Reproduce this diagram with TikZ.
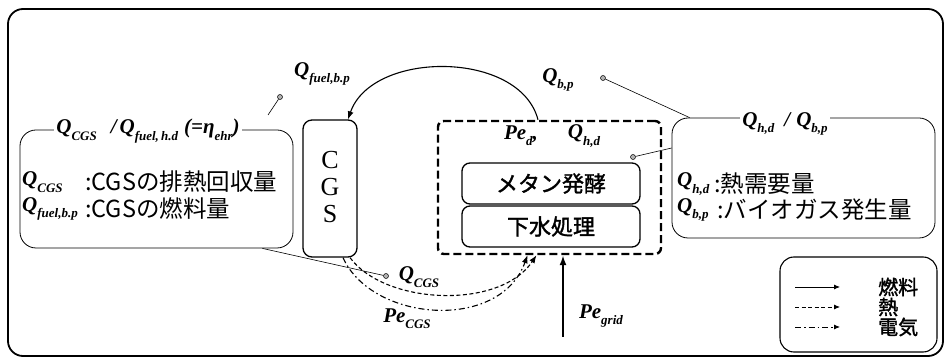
\documentclass[tikz,border=0pt]{standalone}
\usepackage{fontspec}
\setmainfont{Liberation Serif}
\newfontfamily\jp{Noto Sans CJK JP}
\newfontfamily\jpb{Noto Sans CJK JP}[FakeBold=1.5]
\usetikzlibrary{arrows.meta}
\newcommand{\qv}[2]{{\fontsize{21}{21}\selectfont\bfseries\itshape #1\raisebox{-0.3em}{\fontsize{13}{13}\selectfont #2}}}
\newcommand{\bi}[1]{{\fontsize{21}{21}\selectfont\bfseries\itshape #1}}
\newcommand{\jt}[1]{{\jp\fontsize{23.5}{23.5}\selectfont #1}}
\begin{document}
\begin{tikzpicture}[x=1pt,y=-1pt,
  frame/.style={draw, line width=1.8pt, rounded corners=15pt},
  bubble/.style={draw, line width=0.8pt, rounded corners=16pt, inner sep=0},
  cgsbox/.style={draw, line width=1.3pt, rounded corners=9pt, inner sep=0},
  procbox/.style={draw, line width=1.3pt, rounded corners=8pt, inner sep=0},
  dbox/.style={draw, line width=2.4pt, dash pattern=on 8pt off 4pt, rounded corners=6pt, inner sep=0},
  legbox/.style={draw, line width=1.1pt, rounded corners=14pt, inner sep=0},
  title/.style={fill=white, inner sep=2pt},
  lab/.style={inner sep=0},
  dot/.style={circle, draw, fill=gray!60, inner sep=0, minimum size=5pt, line width=0.5pt},
  leader/.style={draw, line width=0.6pt},
  fuelarrow/.style={draw, line width=1.1pt, -{Latex[length=8pt,width=6pt]}},
  heatarrow/.style={draw, line width=1.1pt, dash pattern=on 4pt off 2.5pt, -{Latex[length=8pt,width=6pt]}},
  elecarrow/.style={draw, line width=1.1pt, dash pattern=on 6pt off 3pt on 1.5pt off 3pt, -{Latex[length=8pt,width=6pt]}},
  gridarrow/.style={draw, line width=1.8pt, -{Latex[length=10pt,width=7pt]}}
]
\useasboundingbox (0,0) rectangle (946,363);
\draw[frame] (8,9) rectangle (943,356);

% boxes
\node[bubble, minimum width=273, minimum height=118] (lbub) at (156.5,189) {};
\node[cgsbox, minimum width=54, minimum height=137] (cgs) at (330,188.5) {};
\node[dbox, minimum width=223, minimum height=133] (dbox) at (549.5,187.5) {};
\node[procbox, minimum width=178, minimum height=41] (meth) at (551,183.5) {\jpb\fontsize{22}{22}\selectfont メタン発酵};
\node[procbox, minimum width=178, minimum height=41] (sew) at (551,226.5) {\jpb\fontsize{22}{22}\selectfont 下水処理};
\node[bubble, minimum width=263, minimum height=120] (rbub) at (803.5,178) {};
\node[legbox, minimum width=157, minimum height=95] (leg) at (858.5,304.5) {};

% CGS letters
\node[lab] (cC) at (330,160) {\fontsize{26}{26}\selectfont C};
\node[lab] (cG) at (330,187) {\fontsize{26}{26}\selectfont G};
\node[lab] (cS) at (330,214) {\fontsize{26}{26}\selectfont S};

% left bubble text
\node[title] (ltitle) at (148,131) {\qv{Q}{CGS}\hspace{14pt}\bi{/}\hspace{3pt}\qv{Q}{fuel,\,h.d}\hspace{6pt}\bi{(=}\qv{η}{ehr}\bi{)}};
\node[lab, anchor=west] (l1a) at (22,182) {\qv{Q}{CGS}};
\node[lab, anchor=west] (l1b) at (85,182) {\jt{:CGSの排熱回収量}};
\node[lab, anchor=west] (l2a) at (22,209) {\qv{Q}{fuel,b.p}};
\node[lab, anchor=west] (l2b) at (85,209) {\jt{:CGSの燃料量}};

% right bubble text
\node[title] (rtitle) at (785,124) {\qv{Q}{h,d}\hspace{10pt}\bi{/}\hspace{6pt}\qv{Q}{b,p}};
\node[lab, anchor=west] (r1a) at (677,184) {\qv{Q}{h,d}};
\node[lab, anchor=west] (r1b) at (714,184) {\jt{:熱需要量}};
\node[lab, anchor=west] (r2a) at (677,210) {\qv{Q}{b,p}};
\node[lab, anchor=west] (r2b) at (717,210) {\jt{:バイオガス発生量}};

% labels
\node[lab] (qfuel) at (322,74) {\qv{Q}{fuel,b.p}};
\node[lab] (qbp) at (558,80) {\qv{Q}{b,p}};
\node[lab] (ped) at (521,136) {\qv{Pe}{d}\bi{,}};
\node[lab] (qhd) at (584,136) {\qv{Q}{h,d}};
\node[lab] (qcgs) at (419,277) {\qv{Q}{CGS}};
\node[lab] (pecgs) at (407,319) {\qv{Pe}{CGS}};
\node[lab] (pegrid) at (601,316) {\qv{Pe}{grid}};

% dots and leaders
\node[dot] (d1) at (280,97) {};
\coordinate (d1e) at (268,115);
\draw[leader] (d1) -- (d1e);
\node[dot] (d2) at (603,78) {};
\draw[leader] (d2) -- ([xshift=18pt]rbub.north west);
\node[dot] (d3) at (633,157) {};
\draw[leader] (d3) -- ([yshift=30pt]rbub.west);
\node[dot] (d4) at (386,276) {};
\draw[leader] (d4) -- ([xshift=-31pt]lbub.south east);

% flows
\draw[fuelarrow] ([xshift=-11.5pt]dbox.north) .. controls (520,50) and (372,50) .. ([xshift=18pt]cgs.north);
\draw[heatarrow] ([xshift=20pt]cgs.south) .. controls (385,305) and (500,310) .. ([xshift=-13pt]dbox.south);
\draw[elecarrow] ([xshift=13pt]cgs.south) .. controls (372,322) and (500,332) .. ([xshift=-22pt]dbox.south);
\coordinate (gridsrc) at (563,337);
\draw[gridarrow] (gridsrc) -- (gridsrc |- dbox.south);

% legend
\coordinate (lf1) at (795,287); \coordinate (lf2) at (840,287);
\coordinate (lh1) at (795,307); \coordinate (lh2) at (840,307);
\coordinate (le1) at (795,327); \coordinate (le2) at (840,327);
\draw[fuelarrow, line width=0.8pt, -{Latex[length=6pt,width=5pt]}] (lf1) -- (lf2);
\draw[heatarrow, line width=0.8pt, -{Latex[length=6pt,width=5pt]}] (lh1) -- (lh2);
\draw[elecarrow, line width=0.8pt, -{Latex[length=6pt,width=5pt]}] (le1) -- (le2);
\node[lab, anchor=west] (lgf) at (878,287) {\jpb\fontsize{20}{20}\selectfont 燃料};
\node[lab, anchor=west] (lgh) at (878,307) {\jpb\fontsize{20}{20}\selectfont 熱};
\node[lab, anchor=west] (lge) at (878,327) {\jpb\fontsize{20}{20}\selectfont 電気};
\end{tikzpicture}
\end{document}
